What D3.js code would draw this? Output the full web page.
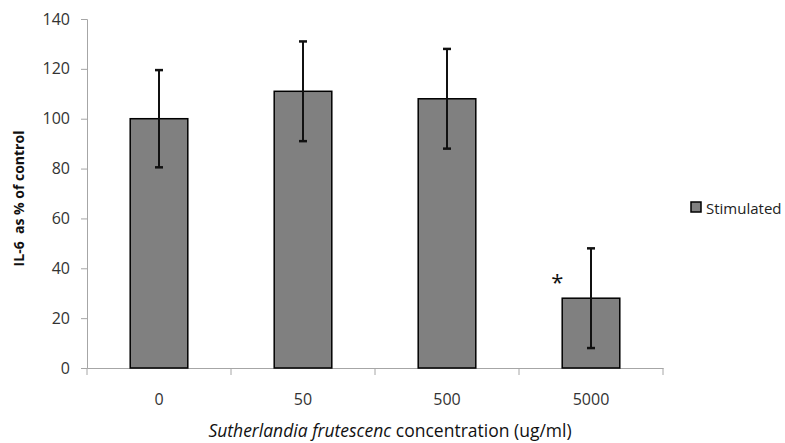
<!DOCTYPE html>
<html><head><meta charset="utf-8">
<script src="https://cdn.jsdelivr.net/npm/d3@7"></script>
<style>body{margin:0;background:#fff}svg{display:block}text{font-family:"Open Sans",sans-serif}</style>
</head><body>
<script>
const categories = ["0", "50", "500", "5000"];
const values = [100, 111, 108, 28];
const errors = [19.5, 20, 20, 20];
const yTicks = [0, 20, 40, 60, 80, 100, 120, 140];
const seriesName = "Stimulated";
const significant = [false, false, false, true];

const W = 785, H = 443;
const m = {left: 87, right: 122, top: 19, bottom: 75};
const svg = d3.select("body").append("svg").attr("width", W).attr("height", H);

const x = d3.scaleBand().domain(categories).range([m.left, W - m.right]).paddingInner(0.6).paddingOuter(0.3);
const xAxisScale = d3.scaleBand().domain(categories).range([m.left, W - m.right]);
const y = d3.scaleLinear().domain([0, 140]).range([H - m.bottom, m.top]);

// y axis
const ya = svg.append("g").attr("transform", `translate(${m.left},0)`)
  .call(d3.axisLeft(y).tickValues(yTicks).tickSize(6).tickPadding(11));
ya.selectAll("path, line").attr("stroke", "#a6a6a6");
ya.selectAll("text").attr("font-size", 16).attr("fill", "#333");

// x axis
const xa = svg.append("g").attr("transform", `translate(0,${y(0)})`)
  .call(d3.axisBottom(xAxisScale).tickSize(0).tickPadding(26));
xa.select("path").attr("stroke", "#a6a6a6");
xa.selectAll("text").attr("font-size", 16).attr("fill", "#333");
// boundary ticks
const bounds = categories.map(c => xAxisScale(c)).concat([xAxisScale(categories[categories.length-1]) + xAxisScale.bandwidth()]);
svg.append("g").selectAll("line").data(bounds).join("line")
  .attr("x1", d => d).attr("x2", d => d).attr("y1", y(0)).attr("y2", y(0) + 7)
  .attr("stroke", "#a6a6a6");

// bars
svg.append("g").selectAll("rect").data(values).join("rect")
  .attr("x", (d, i) => x(categories[i]))
  .attr("y", d => y(d))
  .attr("width", x.bandwidth())
  .attr("height", d => y(0) - y(d))
  .attr("fill", "#808080").attr("stroke", "#000").attr("stroke-width", 1.5);

// error bars
const eb = svg.append("g").attr("stroke", "#111").attr("stroke-width", 2);
values.forEach((v, i) => {
  const cx = x(categories[i]) + x.bandwidth() / 2;
  eb.append("line").attr("x1", cx).attr("x2", cx).attr("y1", y(v + errors[i])).attr("y2", y(v - errors[i]));
  [v + errors[i], v - errors[i]].forEach(e => {
    eb.append("line").attr("x1", cx - 4).attr("x2", cx + 4).attr("y1", y(e)).attr("y2", y(e)).attr("stroke-width", 2.5);
  });
  if (significant[i]) {
    svg.append("text").attr("x", x(categories[i]) - 5).attr("y", y(v) - 8)
      .attr("text-anchor", "middle").attr("font-size", 22).attr("fill", "#111").text("*");
  }
});

// legend
const lg = svg.append("g").attr("transform", "translate(691,202)");
lg.append("rect").attr("width", 10).attr("height", 10).attr("fill", "#808080").attr("stroke", "#000").attr("stroke-width", 1.5);
lg.append("text").attr("x", 15).attr("y", 11.5).attr("font-size", 15).attr("fill", "#222").text(seriesName);

// y title
svg.append("text").attr("transform", `translate(24,${(y(0)+y(140))/2 + 5}) rotate(-90)`)
  .attr("text-anchor", "middle").attr("font-size", 14).attr("font-weight", "bold").attr("fill", "#111")
  .style("white-space", "pre")
  .text("IL-6  as % of control");

// x title
const xt = svg.append("text").attr("x", 390).attr("y", 437).attr("text-anchor", "middle")
  .attr("font-size", 17.5).attr("fill", "#111");
xt.append("tspan").attr("font-style", "italic").text("Sutherlandia frutescenc");
xt.append("tspan").text(" concentration (ug/ml)");
</script>
</body></html>
